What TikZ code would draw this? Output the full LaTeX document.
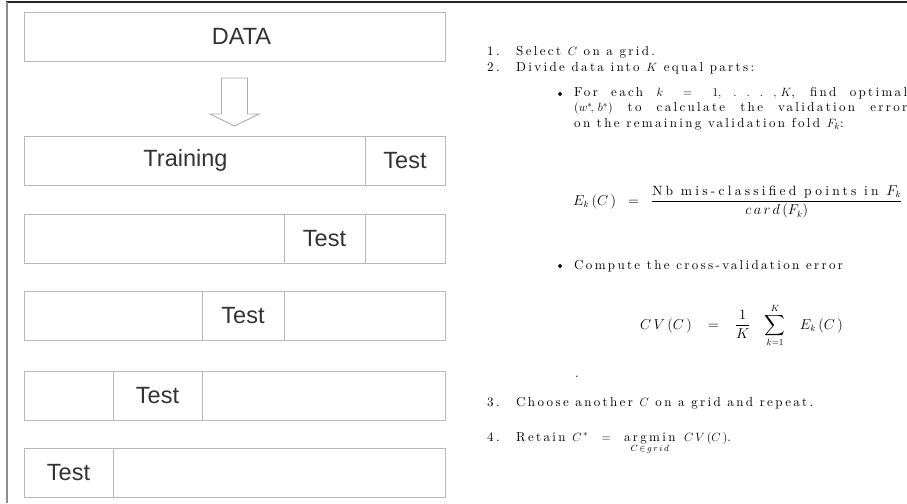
\documentclass[tikz,border=0pt]{standalone}
\usepackage{amsmath}
\usepackage{fontspec}
\newfontfamily\boxfont{Liberation Sans}
\newfontfamily\slidefont[LetterSpace=18]{lmroman10-regular.otf}
\usetikzlibrary{positioning,calc}

\begin{document}
\begin{tikzpicture}[
        x=1pt, y=-1pt,
        cell/.style={draw=gray!55, line width=0.9pt, minimum height=49pt, inner sep=0pt, outer sep=0pt, anchor=north west, font=\boxfont\fontsize{23.5}{28}\selectfont, text=black!80},
        blockarrow/.style={draw=gray!65, line width=0.9pt, line join=miter},
        txt/.style={anchor=base west, inner sep=0pt, font=\slidefont\fontsize{13}{15.5}\selectfont},
        para/.style={txt, anchor=north west, text width=333pt, align=justify},
        eqn/.style={txt, font=\slidefont\fontsize{13.5}{16}\selectfont}
    ]
        \useasboundingbox (0,0) rectangle (907,503);

        % Frame
        \draw[black!85, line width=1.4pt] (6,2) -- (907,2);
        \draw[gray!90, line width=2pt] (6.5,2) -- (6.5,503);

        % Data and split
        \node (data) [cell, minimum width=421pt] at (24,12) {\hspace*{14pt}DATA};
        \draw [blockarrow] ($(data.south)+(-13,17)$) -- ++(26,0) -- ++(0,36) -- ++(11.5,0)
            -- ++(-24.5,12) -- ++(-24.5,-12) -- ++(11.5,0) -- cycle;

        % Folds
        \node (r1a) [cell, minimum width=341pt] at (24,136) {\hspace*{-18pt}Training};
        \node (r1b) [cell, minimum width=80pt, right=0pt of r1a] {Test};

        \node (r2a) [cell, minimum width=260pt] at (24,214) {};
        \node (r2b) [cell, minimum width=81pt, right=0pt of r2a] {Test};
        \node (r2c) [cell, minimum width=80pt, right=0pt of r2b] {};

        \node (r3a) [cell, minimum width=178pt] at (24,291) {};
        \node (r3b) [cell, minimum width=82pt, right=0pt of r3a] {Test};
        \node (r3c) [cell, minimum width=161pt, right=0pt of r3b] {};

        \node (r4a) [cell, minimum width=89pt] at (24,371) {};
        \node (r4b) [cell, minimum width=89pt, right=0pt of r4a] {Test};
        \node (r4c) [cell, minimum width=243pt, right=0pt of r4b] {};

        \node (r5a) [cell, minimum width=89pt] at (24,448) {Test};
        \node (r5b) [cell, minimum width=332pt, right=0pt of r5a] {};

        % Procedure
        \node (n1) [txt] at (487,56) {1.};
        \node (i1) [txt] at (516,56) {Select $C$ on a grid.};
        \node (n2) [txt] at (487,71) {2.};
        \node (i2) [txt] at (516,71) {Divide data into $K$ equal parts:};

        \node (b1) [txt] at (555,97) {\textbullet};
        \node (p1) [para] at (574,87) {For each $k\;=\;1,\;.\;.\;.\;,\,K$, find optimal\linebreak $(w^*\!,\,b^*)$ to calculate the validation error\linebreak on the remaining validation fold $F_k$:};
        \node (e1) [eqn] at (573,205) {$\displaystyle E_k\,(C\,) \;\;=\;\; \frac{\text{\addfontfeatures{LetterSpace=24}Nb mis-classified points in $F_k$}}{c\,a\,r\,d\,(F_k)}$};

        \node (b2) [txt] at (555,269) {\textbullet};
        \node (p2) [txt] at (574,269) {Compute the cross-validation error};
        \node (e2) [eqn] at (640,329) {$\displaystyle C\,V\,(C\,) \;\;\;=\;\;\; \frac{1}{K}\;\;\;\sum_{k=1}^{K}\;\;\; E_k\,(C\,)$};
        \node (dot) [txt] at (575,377) {.};

        \node (n3) [txt] at (487,406) {3.};
        \node (i3) [txt] at (516,406) {Choose another $C$ on a grid and repeat.};
        \node (n4) [txt] at (487,441) {4.};
        \node (i4) [txt] at (516,441) {Retain $C^{\,*} \;\;\;=\;\;\; \displaystyle\mathop{\text{argmin}}\limits_{C\,\in\, g\,r\,i\,d}\;\; C\,V\,(C\,)$.};

    \end{tikzpicture}
\end{document}
